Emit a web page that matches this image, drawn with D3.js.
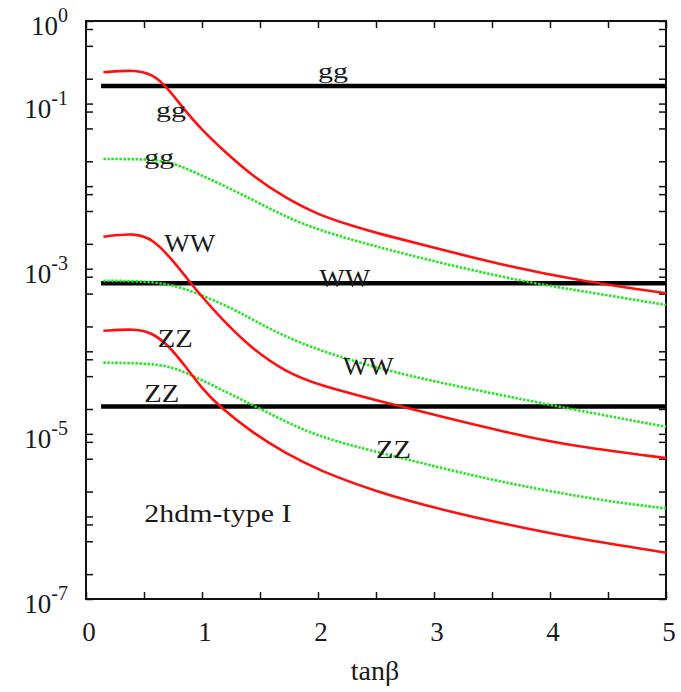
<!DOCTYPE html>
<html>
<head>
<meta charset="utf-8">
<script src="https://cdn.jsdelivr.net/npm/d3@7/dist/d3.min.js"></script>
<style>
  html, body { margin: 0; padding: 0; background: #fff; }
  svg { display: block; }
</style>
</head>
<body>
<svg id="chart" width="681" height="692"></svg>
<script>
// ---- data ----
const redGgX = [0.15, 0.43, 0.58, 0.69, 0.86, 1.0, 1.15, 1.44, 1.72, 2.0, 2.3, 2.5, 3.07, 3.65, 4.22, 5.0];
const redGgY = [0.239, 0.257, 0.222, 0.163, 0.080, 0.048, 0.030, 0.013, 0.0072, 0.0045, 0.00329, 0.00271, 0.00169, 0.00106, 0.00073, 0.000504];

const greenGgX = [0.15, 0.43, 0.58, 0.72, 0.86, 1.15, 1.44, 1.72, 2.0, 2.5, 3.07, 3.77, 4.22, 5.0];
const greenGgY = [0.0213, 0.0213, 0.0207, 0.0198, 0.0164, 0.0108, 0.0068, 0.00427, 0.00294, 0.00185, 0.00116, 0.000697, 0.000552, 0.000364];

const redWWX = [0.15, 0.43, 0.58, 0.72, 0.86, 0.95, 1.15, 1.44, 1.72, 2.0, 2.5, 3.07, 3.65, 4.22, 5.0];
const redWWY = [0.00244, 0.00272, 0.00223, 0.00140, 0.00080, 0.000552, 0.000262, 0.000104, 5.66e-5, 3.91e-5, 2.55e-5, 1.61e-5, 1.02e-5, 6.99e-6, 5.1e-6];

const greenWWX = [0.15, 0.43, 0.72, 1.0, 1.29, 1.44, 1.72, 2.0, 2.5, 3.07, 3.65, 4.22, 5.0];
const greenWWY = [7.16e-4, 7.1e-4, 6.65e-4, 4.8e-4, 3.16e-4, 2.39e-4, 1.5e-4, 1.04e-4, 6.28e-5, 4.1e-5, 2.82e-5, 1.94e-5, 1.22e-5];

const redZZX = [0.15, 0.43, 0.58, 0.72, 0.86, 1.0, 1.15, 1.44, 1.72, 2.0, 2.5, 3.07, 3.65, 4.22, 5.0];
const redZZY = [1.77e-4, 1.88e-4, 1.65e-4, 1.14e-4, 6.5e-5, 3.56e-5, 2.13e-5, 1.02e-5, 5.82e-6, 3.65e-6, 1.99e-6, 1.2e-6, 7.87e-7, 5.43e-7, 3.64e-7];

const greenZZX = [0.15, 0.58, 0.78, 1.0, 1.29, 1.58, 1.87, 2.16, 2.5, 3.36, 3.94, 4.51, 5.0];
const greenZZY = [7.28e-5, 7.15e-5, 6.22e-5, 4.49e-5, 2.82e-5, 1.77e-5, 1.11e-5, 8.04e-6, 6.08e-6, 3.03e-6, 2.09e-6, 1.51e-6, 1.25e-6];

// horizontal reference lines (gg, WW, ZZ)
const refNames = ["gg", "WW", "ZZ"];
const refValues = [0.163, 6.65e-4, 2.15e-5];
const refXRange = [0.13, 5.0];

// axes
const xTickValues = [0, 0.5, 1, 1.5, 2, 2.5, 3, 3.5, 4, 4.5, 5];
const xTickLabels = ["0", "1", "2", "3", "4", "5"];
const yLabelExps = [0, -1, -3, -5, -7];
const yMinorMults = [1, 2, 5, 8];
const xTitle = "tanβ";

// annotations: text, tanβ, value (baseline)
const annText = ["gg", "gg", "gg", "WW", "WW", "WW", "ZZ", "ZZ", "ZZ", "2hdm-type I"];
const annX = [2.0, 0.603, 0.503, 0.675, 2.011, 2.213, 0.618, 0.503, 2.5, 0.503];
const annY = [0.204, 0.0688, 0.0188, 0.00161, 6.01e-4, 5.16e-5, 1.14e-4, 2.45e-5, 5.1e-6, 8.63e-7];

// ---- layout ----
const FONT = "'Liberation Serif', 'Times New Roman', Times, 'DejaVu Serif', serif";
const L = 86, R = 666, T = 21, B = 599;
const svg = d3.select("#chart");
const x = d3.scaleLinear().domain([0, 5]).range([L, R]);
const y = d3.scaleLog().domain([1e-7, 1]).range([B, T]);

const yTicksAll = [];
for (let e = -8; e <= 0; e++) for (const m of yMinorMults) {
  const v = m * Math.pow(10, e);
  if (v >= 0.99e-7 && v <= 1.0001) yTicksAll.push(v);
}

const tick = 7;
function styleAxis(g) {
  g.select(".domain").remove();
  g.selectAll("line").attr("stroke", "#111").attr("stroke-width", 1.5);
}
svg.append("g").attr("transform", `translate(0,${B})`)
  .call(d3.axisBottom(x).tickValues(xTickValues).tickSize(-tick).tickFormat("")).call(styleAxis);
svg.append("g").attr("transform", `translate(0,${T})`)
  .call(d3.axisTop(x).tickValues(xTickValues).tickSize(-tick).tickFormat("")).call(styleAxis);
svg.append("g").attr("transform", `translate(${L},0)`)
  .call(d3.axisLeft(y).tickValues(yTicksAll).tickSize(-tick).tickFormat("")).call(styleAxis);
svg.append("g").attr("transform", `translate(${R},0)`)
  .call(d3.axisRight(y).tickValues(yTicksAll).tickSize(-tick).tickFormat("")).call(styleAxis);

// frame
svg.append("rect").attr("x", L).attr("y", T).attr("width", R - L).attr("height", B - T)
  .attr("fill", "none").attr("stroke", "#111").attr("stroke-width", 2);

function txt(xp, yp, size) {
  return svg.append("text").attr("x", xp).attr("y", yp)
    .attr("font-family", FONT).attr("font-size", size).attr("fill", "#1a1a1a");
}

// x tick labels
xTickLabels.forEach(t => {
  txt(x(+t) + 3, B + 42, 27).attr("text-anchor", "middle").text(t);
});
// y tick labels
yLabelExps.forEach(e => {
  const t = txt(68, y(Math.pow(10, e)) + 14, 27).attr("text-anchor", "end");
  t.append("tspan").text("10");
  t.append("tspan").attr("dy", -13).attr("font-size", 20).text(String(e));
});
// x title
txt(375, 680, 28).attr("text-anchor", "middle").text(xTitle);

// reference black lines
refValues.forEach(v => {
  svg.append("line").attr("x1", x(refXRange[0])).attr("x2", x(refXRange[1]))
    .attr("y1", y(v)).attr("y2", y(v)).attr("stroke", "#000").attr("stroke-width", 4.5);
});

// curves
const line = d3.line().x(d => x(d[0])).y(d => y(d[1])).curve(d3.curveBasis);
const series = [
  {xs: greenGgX, ys: greenGgY, c: "green"},
  {xs: greenWWX, ys: greenWWY, c: "green"},
  {xs: greenZZX, ys: greenZZY, c: "green"},
  {xs: redGgX, ys: redGgY, c: "red"},
  {xs: redWWX, ys: redWWY, c: "red"},
  {xs: redZZX, ys: redZZY, c: "red"}
];
series.forEach(s => {
  const pts = s.xs.map((v, i) => [v, s.ys[i]]);
  const p = svg.append("path").attr("d", line(pts)).attr("fill", "none");
  if (s.c === "red") {
    p.attr("stroke", "#ff1010").attr("stroke-width", 2.6);
  } else {
    p.attr("stroke", "#22e622").attr("stroke-width", 2.6).attr("stroke-dasharray", "2.5,1.5");
  }
});

// annotations
const annSize = {"gg": [22, 30], "WW": [26, 51], "ZZ": [26, 35], "2hdm-type I": [26, 147]};
annText.forEach((t, i) => {
  const [fs, w] = annSize[t];
  txt(x(annX[i]), y(annY[i]), fs)
    .attr("textLength", w).attr("lengthAdjust", "spacingAndGlyphs")
    .text(t);
});
</script>
</body>
</html>
